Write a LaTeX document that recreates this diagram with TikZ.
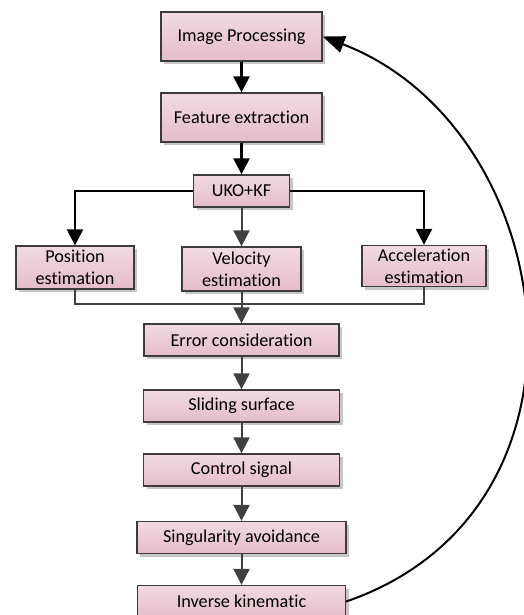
\documentclass[tikz,border=0pt]{standalone}
\usepackage{fontspec}
\setmainfont{Carlito}[Ligatures=NoCommon]
\usetikzlibrary{arrows.meta, shadows}
\definecolor{pinktop}{HTML}{F2DAE2}
\definecolor{pinkbot}{HTML}{E5BCCA}
\definecolor{cline}{HTML}{3C3C3C}
\definecolor{cgrey}{HTML}{404040}
\tikzset{
  every picture/.style={font=\fontsize{18.2}{22}\selectfont},
  box/.style={draw=cline, line width=1.3pt, top color=pinktop, bottom color=pinkbot, align=center, inner sep=2pt, minimum height=32pt, drop shadow={shadow xshift=3pt, shadow yshift=-3pt, fill=black!22, opacity=1}},
  arrow/.style={-{Triangle[length=16pt, width=16pt]}, draw=black, line width=2.4pt},
  garrow/.style={-{Triangle[length=16pt, width=16pt]}, draw=cgrey, line width=2pt},
  gline/.style={draw=cgrey, line width=2pt},
  back/.style={-{Triangle[length=22pt, width=17pt]}, draw=black, line width=2pt},
}

\begin{document}
\begin{tikzpicture}[x=1pt, y=-1pt]
  \useasboundingbox (0,0) rectangle (524,615);
  % main column
  \node[box, minimum width=161pt, minimum height=49pt] (ip) at (241.5,36.5) {Image Processing};
  \node[box, minimum width=161pt, minimum height=49pt] (fe) at (241.5,117.5) {Feature extraction};
  \node[box, minimum width=96pt] (uko) at (241.5,191) {UKO+KF};
  % estimations
  \node[box, minimum width=118pt, minimum height=43pt] (pos) at (75,267.5) {Position\\estimation};
  \node[box, minimum width=119pt, minimum height=44pt] (vel) at (241.5,269) {Velocity\\estimation};
  \node[box, minimum width=124pt, minimum height=41pt] (acc) at (424,266) {Acceleration\\estimation};
  % controller
  \node[box, minimum width=195pt] (err) at (241.5,340) {Error consideration};
  \node[box, minimum width=196pt] (sli) at (241.5,406) {Sliding surface};
  \node[box, minimum width=196pt] (con) at (241.5,470) {Control signal};
  \node[box, minimum width=209pt] (sin) at (241.5,537.5) {Singularity avoidance};
  \node[box, minimum width=208pt] (ik) at (241.5,601.5) {Inverse kinematic};
  \draw[arrow] (ip) -- (fe);
  \draw[arrow] (fe) -- (uko);
  \draw[arrow] (uko.west) -| (pos.north);
  \draw[arrow] (uko.east) -| (acc.north);
  \draw[garrow] (uko) -- (vel);
  \coordinate (bus) at (241.5,304);
  \draw[gline] (pos.south) |- (bus) -| (acc.south);
  \draw[garrow] (vel) -- (err);
  \foreach \a/\b in {err/sli, sli/con, con/sin, sin/ik} \draw[garrow] (\a) -- (\b);
  % feedback
  \draw[back] (ik.east) .. controls (615,509) and (561,128) .. (ip.east);
\end{tikzpicture}
\end{document}
